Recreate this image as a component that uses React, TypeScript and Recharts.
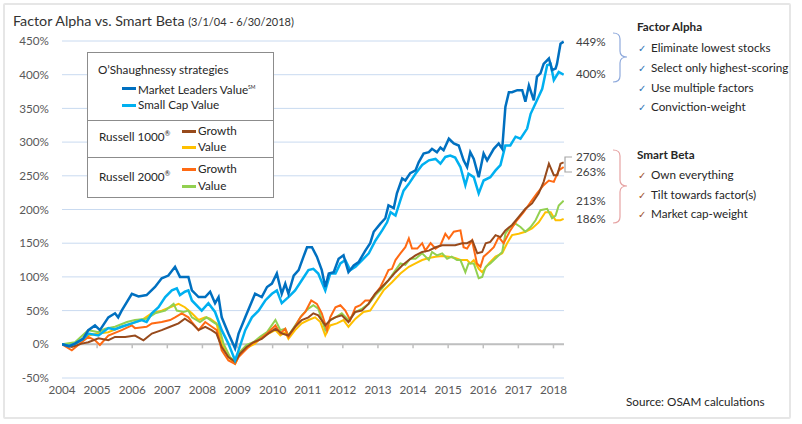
import React from 'react';
import { LineChart, Line, XAxis, YAxis, CartesianGrid, ReferenceLine } from 'recharts';

// cumulative return (%) since 3/1/04; x = years on the axis
const yearTicks = [2004, 2005, 2006, 2007, 2008, 2009, 2010, 2011, 2012, 2013, 2014, 2015, 2016, 2017, 2018];
const pctTicks = [-50, 0, 50, 100, 150, 200, 250, 300, 350, 400, 450];

const marketLeadersValue: [number, number][] = [
  [2004, 0], [2004.2, -3], [2004.37, 1], [2004.6, 8], [2004.75, 21], [2004.94, 28], [2005.08, 21], [2005.32, 40],
  [2005.51, 46], [2005.6, 40], [2005.7, 50], [2005.99, 75], [2006.18, 71], [2006.41, 73], [2006.65, 85], [2006.84, 98],
  [2007.03, 102], [2007.22, 115], [2007.36, 100], [2007.6, 100], [2007.7, 80], [2007.89, 70], [2008.08, 70], [2008.22, 78],
  [2008.36, 61], [2008.46, 70], [2008.55, 40], [2008.74, 16], [2008.93, -6], [2009.03, 16], [2009.22, 40], [2009.5, 75],
  [2009.69, 70], [2009.84, 85], [2009.98, 90], [2010.12, 105], [2010.26, 75], [2010.36, 90], [2010.45, 75], [2010.6, 102],
  [2010.74, 110], [2010.88, 130], [2010.98, 144], [2011.12, 144], [2011.26, 130], [2011.4, 110], [2011.5, 85], [2011.6, 105],
  [2011.74, 107], [2011.88, 127], [2012.02, 132], [2012.16, 107], [2012.31, 117], [2012.45, 122], [2012.64, 139], [2012.78, 150],
  [2012.88, 167], [2013.07, 179], [2013.21, 187], [2013.3, 206], [2013.45, 202], [2013.54, 224], [2013.69, 246], [2013.78, 243],
  [2013.92, 254], [2014.07, 258], [2014.16, 270], [2014.3, 283], [2014.45, 285], [2014.54, 290], [2014.68, 285], [2014.78, 292],
  [2014.87, 288], [2015.02, 305], [2015.16, 298], [2015.3, 295], [2015.44, 273], [2015.54, 263], [2015.63, 285], [2015.73, 275],
  [2015.87, 248], [2016.01, 283], [2016.11, 273], [2016.3, 290], [2016.44, 298], [2016.54, 290], [2016.63, 352], [2016.73, 374],
  [2016.82, 374], [2016.97, 377], [2017.11, 377], [2017.2, 360], [2017.3, 384], [2017.44, 362], [2017.53, 397], [2017.63, 402],
  [2017.72, 416], [2017.87, 424], [2017.96, 407], [2018.06, 409], [2018.1, 416], [2018.2, 446], [2018.29, 449],
];

const smallCapValue: [number, number][] = [
  [2004, 0], [2004.2, -2], [2004.37, 1], [2004.6, 8], [2004.75, 16], [2005.04, 13], [2005.32, 24], [2005.5, 22],
  [2005.7, 26], [2005.99, 31], [2006.27, 36], [2006.41, 33], [2006.56, 46], [2006.75, 55], [2006.94, 70], [2007.13, 80],
  [2007.27, 83], [2007.36, 73], [2007.5, 78], [2007.6, 80], [2007.7, 65], [2007.98, 50], [2008.17, 61], [2008.36, 48],
  [2008.55, 21], [2008.74, 1], [2008.93, -24], [2009.03, -9], [2009.22, 21], [2009.41, 40], [2009.6, 50], [2009.79, 65],
  [2009.98, 75], [2010.12, 80], [2010.26, 61], [2010.45, 70], [2010.64, 80], [2010.83, 95], [2011.02, 110], [2011.16, 112],
  [2011.3, 105], [2011.5, 80], [2011.64, 105], [2011.79, 105], [2011.93, 120], [2012.07, 125], [2012.21, 110], [2012.36, 115],
  [2012.55, 125], [2012.74, 135], [2012.93, 154], [2013.12, 169], [2013.26, 181], [2013.36, 196], [2013.5, 191], [2013.64, 214],
  [2013.73, 228], [2013.88, 238], [2014.07, 253], [2014.26, 266], [2014.45, 273], [2014.64, 275], [2014.78, 268], [2014.92, 278],
  [2015.06, 280], [2015.2, 277], [2015.35, 263], [2015.49, 236], [2015.58, 253], [2015.73, 248], [2015.87, 224], [2016.01, 243],
  [2016.2, 248], [2016.35, 258], [2016.49, 266], [2016.63, 295], [2016.77, 295], [2016.92, 308], [2017.06, 305], [2017.25, 320],
  [2017.35, 342], [2017.53, 362], [2017.68, 379], [2017.82, 414], [2017.92, 416], [2018.01, 392], [2018.15, 404], [2018.29, 400],
];

const r1000Growth: [number, number][] = [
  [2004, 0], [2004.28, -4], [2004.56, 1], [2004.75, 3], [2005.04, 9], [2005.32, 6], [2005.51, 11], [2005.8, 11],
  [2006.08, 13], [2006.32, 6], [2006.56, 16], [2006.84, 21], [2007.08, 26], [2007.32, 31], [2007.5, 38], [2007.7, 31],
  [2007.89, 21], [2008.08, 26], [2008.26, 21], [2008.4, 16], [2008.55, -4], [2008.74, -19], [2008.93, -26], [2009.07, -14],
  [2009.26, -4], [2009.45, 3], [2009.69, 8], [2009.88, 16], [2010.08, 23], [2010.27, 16], [2010.45, 13], [2010.64, 26],
  [2010.83, 36], [2011.02, 40], [2011.16, 46], [2011.3, 43], [2011.5, 28], [2011.64, 36], [2011.78, 40], [2011.97, 43],
  [2012.16, 33], [2012.35, 48], [2012.54, 50], [2012.73, 60], [2012.92, 75], [2013.11, 85], [2013.3, 95], [2013.5, 107],
  [2013.69, 117], [2013.88, 125], [2014.07, 132], [2014.26, 137], [2014.45, 139], [2014.64, 144], [2014.83, 147], [2015.02, 147],
  [2015.2, 147], [2015.4, 150], [2015.54, 150], [2015.69, 154], [2015.83, 135], [2015.97, 137], [2016.07, 150], [2016.2, 152],
  [2016.35, 162], [2016.49, 159], [2016.63, 169], [2016.82, 177], [2017.01, 189], [2017.2, 201], [2017.39, 209], [2017.58, 224],
  [2017.72, 241], [2017.87, 268], [2018.01, 251], [2018.11, 251], [2018.2, 268], [2018.29, 270],
];

const r1000Value: [number, number][] = [
  [2004, 0], [2004.37, 0], [2004.75, 13], [2005.04, 16], [2005.32, 18], [2005.7, 26], [2005.99, 31], [2006.27, 36],
  [2006.56, 46], [2006.84, 50], [2007.08, 55], [2007.32, 60], [2007.5, 55], [2007.7, 46], [2007.89, 36], [2008.08, 40],
  [2008.22, 38], [2008.4, 31], [2008.55, 1], [2008.74, -19], [2008.93, -29], [2009.07, -14], [2009.31, -4], [2009.5, 1],
  [2009.69, 11], [2009.88, 16], [2010.08, 21], [2010.22, 13], [2010.36, 18], [2010.45, 8], [2010.64, 21], [2010.83, 31],
  [2011.02, 36], [2011.21, 40], [2011.36, 33], [2011.5, 13], [2011.64, 28], [2011.83, 31], [2012.02, 36], [2012.16, 26],
  [2012.36, 38], [2012.59, 48], [2012.78, 50], [2012.97, 65], [2013.16, 80], [2013.4, 92], [2013.64, 105], [2013.88, 115],
  [2014.07, 120], [2014.26, 125], [2014.45, 128], [2014.64, 130], [2014.83, 131], [2015.02, 130], [2015.2, 128], [2015.35, 125],
  [2015.54, 125], [2015.63, 120], [2015.73, 125], [2015.87, 112], [2015.97, 107], [2016.16, 120], [2016.35, 130], [2016.54, 135],
  [2016.68, 150], [2016.82, 162], [2017.01, 164], [2017.2, 167], [2017.39, 172], [2017.58, 181], [2017.77, 196], [2017.92, 196],
  [2018.06, 184], [2018.2, 184], [2018.29, 186],
];

const r2000Growth: [number, number][] = [
  [2004, 0], [2004.28, -9], [2004.56, 3], [2004.75, 11], [2004.94, 6], [2005.08, -1], [2005.32, 13], [2005.7, 21],
  [2005.99, 28], [2006.08, 24], [2006.41, 26], [2006.56, 31], [2006.84, 33], [2007.08, 36], [2007.22, 40], [2007.41, 46],
  [2007.6, 40], [2007.7, 33], [2007.89, 21], [2008.08, 33], [2008.27, 26], [2008.41, 21], [2008.55, -9], [2008.74, -24],
  [2008.93, -29], [2009.03, -19], [2009.22, -9], [2009.41, 1], [2009.6, 6], [2009.84, 16], [2010.08, 28], [2010.22, 16],
  [2010.36, 23], [2010.45, 11], [2010.64, 26], [2010.79, 40], [2010.93, 48], [2011.1, 65], [2011.26, 60], [2011.4, 46],
  [2011.55, 21], [2011.64, 40], [2011.79, 55], [2011.93, 58], [2012.07, 50], [2012.21, 36], [2012.36, 55], [2012.5, 58],
  [2012.64, 65], [2012.78, 65], [2012.93, 75], [2013.07, 85], [2013.21, 100], [2013.3, 110], [2013.4, 112], [2013.5, 125],
  [2013.64, 135], [2013.78, 144], [2013.88, 157], [2013.97, 142], [2014.12, 142], [2014.26, 150], [2014.35, 139], [2014.5, 150],
  [2014.64, 142], [2014.78, 147], [2014.92, 164], [2015.02, 157], [2015.16, 167], [2015.35, 169], [2015.44, 144], [2015.54, 142],
  [2015.68, 154], [2015.82, 120], [2015.92, 115], [2016.01, 130], [2016.16, 137], [2016.3, 144], [2016.44, 159], [2016.58, 150],
  [2016.77, 169], [2016.96, 184], [2017.15, 196], [2017.35, 211], [2017.53, 224], [2017.72, 236], [2017.87, 243], [2018.01, 241],
  [2018.15, 258], [2018.29, 263],
];

const r2000Value: [number, number][] = [
  [2004, 0], [2004.37, 3], [2004.75, 21], [2005.04, 18], [2005.23, 23], [2005.51, 26], [2005.85, 33], [2006.08, 36],
  [2006.41, 38], [2006.65, 46], [2006.94, 50], [2007.18, 60], [2007.27, 50], [2007.46, 48], [2007.6, 50], [2007.7, 40],
  [2007.93, 33], [2008.12, 40], [2008.31, 33], [2008.46, 28], [2008.6, 1], [2008.79, -19], [2008.93, -26], [2009.07, -11],
  [2009.26, -1], [2009.45, 3], [2009.64, 11], [2009.84, 18], [2010.08, 36], [2010.22, 21], [2010.36, 23], [2010.45, 13],
  [2010.64, 28], [2010.83, 43], [2011.02, 53], [2011.16, 58], [2011.3, 53], [2011.5, 21], [2011.64, 36], [2011.79, 40],
  [2011.97, 46], [2012.16, 36], [2012.36, 48], [2012.55, 53], [2012.74, 60], [2012.93, 73], [2013.12, 83], [2013.3, 95],
  [2013.5, 110], [2013.64, 120], [2013.78, 118], [2013.92, 127], [2014.07, 127], [2014.26, 135], [2014.45, 125], [2014.54, 137],
  [2014.68, 132], [2014.83, 135], [2014.97, 127], [2015.1, 130], [2015.25, 125], [2015.35, 125], [2015.49, 107], [2015.58, 120],
  [2015.73, 120], [2015.87, 98], [2015.97, 100], [2016.07, 115], [2016.2, 120], [2016.4, 130], [2016.54, 137], [2016.63, 164],
  [2016.77, 174], [2016.92, 179], [2017.06, 174], [2017.2, 167], [2017.35, 174], [2017.49, 184], [2017.63, 199], [2017.82, 201],
  [2017.96, 187], [2018.06, 191], [2018.15, 206], [2018.29, 213],
];

const alphaPoints = ['Eliminate lowest stocks', 'Select only highest-scoring', 'Use multiple factors', 'Conviction-weight'];
const betaPoints = ['Own everything', 'Tilt towards factor(s)', 'Market cap-weight'];

const C = {
  mlv: '#0070C0',
  scv: '#00B0F0',
  r1g: '#974A1C',
  r1v: '#FFC000',
  r2g: '#FF6A13',
  r2v: '#92D050',
};

const FONT = 'Lato, "Open Sans", sans-serif';
const FS = 11.7;

const toPts = (a: [number, number][]) => a.map(([t, v]) => ({ t, v }));

const series = [
  { key: 'r1v', data: toPts(r1000Value), color: C.r1v, w: 2 },
  { key: 'r2v', data: toPts(r2000Value), color: C.r2v, w: 2 },
  { key: 'r2g', data: toPts(r2000Growth), color: C.r2g, w: 2 },
  { key: 'r1g', data: toPts(r1000Growth), color: C.r1g, w: 2 },
  { key: 'scv', data: toPts(smallCapValue), color: C.scv, w: 2.5 },
  { key: 'mlv', data: toPts(marketLeadersValue), color: C.mlv, w: 2.5 },
];

const Txt = ({ x, y, size = FS, children, style }: any) => (
  <div
    style={{
      position: 'absolute', left: x, top: y - size * 0.65, lineHeight: `${size * 1.3}px`,
      fontSize: size, whiteSpace: 'nowrap', color: '#262626', ...style,
    }}
  >
    {children}
  </div>
);

const Swatch = ({ x, y, color }: any) => (
  <div style={{ position: 'absolute', left: x, top: y - 1.5, width: 14, height: 3, background: color }} />
);

const brace = (x0: number, y0: number, y1: number, ym: number, w = 7) =>
  `M${x0},${y0} Q${x0 + w},${y0} ${x0 + w},${y0 + 6} L${x0 + w},${ym - 6} Q${x0 + w},${ym} ${x0 + 2 * w},${ym} ` +
  `Q${x0 + w},${ym} ${x0 + w},${ym + 6} L${x0 + w},${y1 - 6} Q${x0 + w},${y1} ${x0},${y1}`;

const YearTick = (props: any) => {
  const { x, y, payload } = props;
  return (
    <text x={x} y={y} dy={12} textAnchor="middle" fill="#595959" fontSize={11.7} fontFamily={FONT}>
      {payload.value}
    </text>
  );
};

export default function App() {
  return (
    <div style={{ position: 'absolute', left: 0, top: 0, width: 802, height: 424, background: '#fff', fontFamily: FONT }}>
      <div style={{ position: 'absolute', left: 3, top: 3, width: 784, height: 412, border: '2px solid #e6e6e6', borderRadius: 2 }} />

      <LineChart width={802} height={424} margin={{ top: 41, right: 238, bottom: 16, left: 12 }} style={{ position: 'absolute', left: 0, top: 0 }}>
        <CartesianGrid vertical={false} stroke="#C9DAF0" strokeWidth={1} />
        <XAxis
          type="number" dataKey="t" domain={[2004, 2018.3]} ticks={yearTicks} interval={0} allowDataOverflow
          axisLine={false} tickLine={false} tickSize={0} tickMargin={4} height={30} tick={<YearTick />}
        />
        <YAxis
          type="number" domain={[-50, 450]} ticks={pctTicks} interval={0} tickFormatter={(v) => `${v}%`} width={50}
          axisLine={false} tickLine={false} tickSize={0} tickMargin={13}
          tick={{ fill: '#595959', fontSize: 11.7, fontFamily: FONT }}
        />
        <ReferenceLine y={0} stroke="#BFBFBF" strokeWidth={2} />
        {yearTicks.slice(1).map((yr) => (
          <ReferenceLine key={yr} segment={[{ x: yr, y: 0 }, { x: yr, y: -6 }]} stroke="#BFBFBF" strokeWidth={1.5} />
        ))}
        {series.map((s) => (
          <Line
            key={s.key} data={s.data} dataKey="v" type="linear" stroke={s.color} strokeWidth={s.w}
            dot={false} activeDot={false} isAnimationActive={false}
          />
        ))}
      </LineChart>

      {/* title */}
      <Txt x={13} y={21} size={14.3} style={{ color: '#333' }}>
        Factor Alpha vs. Smart Beta <span style={{ fontSize: 11 }}>(3/1/04 - 6/30/2018)</span>
      </Txt>

      {/* legend box */}
      <div style={{ position: 'absolute', left: 87, top: 52, width: 185, height: 144, border: '1px solid #8c8c8c', background: '#fff' }} />
      <div style={{ position: 'absolute', left: 87, top: 120, width: 187, height: 1, background: '#8c8c8c' }} />
      <div style={{ position: 'absolute', left: 87, top: 157, width: 187, height: 1, background: '#8c8c8c' }} />
      <Txt x={98} y={70}>O’Shaughnessy strategies</Txt>
      <Swatch x={122} y={88} color={C.mlv} />
      <Txt x={138} y={88}>Market Leaders Value<sup style={{ fontSize: 5 }}>SM</sup></Txt>
      <Swatch x={122} y={105} color={C.scv} />
      <Txt x={138} y={105}>Small Cap Value</Txt>
      <Txt x={99} y={134}>Russell 1000<sup style={{ fontSize: 7 }}>®</sup></Txt>
      <Swatch x={182} y={131} color={C.r1g} />
      <Txt x={198} y={131}>Growth</Txt>
      <Swatch x={182} y={147} color={C.r1v} />
      <Txt x={198} y={147}>Value</Txt>
      <Txt x={99} y={174}>Russell 2000<sup style={{ fontSize: 7 }}>®</sup></Txt>
      <Swatch x={182} y={169} color={C.r2g} />
      <Txt x={198} y={169}>Growth</Txt>
      <Swatch x={182} y={186} color={C.r2v} />
      <Txt x={198} y={186}>Value</Txt>

      {/* end labels */}
      <Txt x={576} y={42} style={{ color: '#404040' }}>449%</Txt>
      <Txt x={576} y={74} style={{ color: '#404040' }}>400%</Txt>
      <Txt x={576} y={157} style={{ color: '#404040' }}>270%</Txt>
      <Txt x={576} y={172} style={{ color: '#404040' }}>263%</Txt>
      <Txt x={576} y={201} style={{ color: '#404040' }}>213%</Txt>
      <Txt x={576} y={219} style={{ color: '#404040' }}>186%</Txt>

      <svg width={802} height={424} style={{ position: 'absolute', left: 0, top: 0, pointerEvents: 'none' }}>
        <path d="M572,157 H565 V172 H572" fill="none" stroke="#A6A6A6" strokeWidth={1.2} />
        <path d={brace(613, 33, 82, 57)} fill="none" stroke="#8FAADC" strokeWidth={1.2} />
        <path d={brace(613, 150, 223, 186)} fill="none" stroke="#E6A3A3" strokeWidth={1.2} />
      </svg>

      {/* factor alpha notes */}
      <Txt x={637} y={27} style={{ fontWeight: 700 }}>Factor Alpha</Txt>
      {alphaPoints.map((p, i) => (
        <Txt key={p} x={638} y={48 + i * 19.7}>
          <span style={{ color: '#2E75B6', fontSize: 10, marginRight: 5 }}>✓</span>{p}
        </Txt>
      ))}

      {/* smart beta notes */}
      <Txt x={637} y={155} style={{ fontWeight: 700 }}>Smart Beta</Txt>
      {betaPoints.map((p, i) => (
        <Txt key={p} x={638} y={174.5 + i * 19.8}>
          <span style={{ color: '#A0522D', fontSize: 10, marginRight: 5 }}>✓</span>{p}
        </Txt>
      ))}

      <Txt x={626} y={402}>Source: OSAM calculations</Txt>
    </div>
  );
}
